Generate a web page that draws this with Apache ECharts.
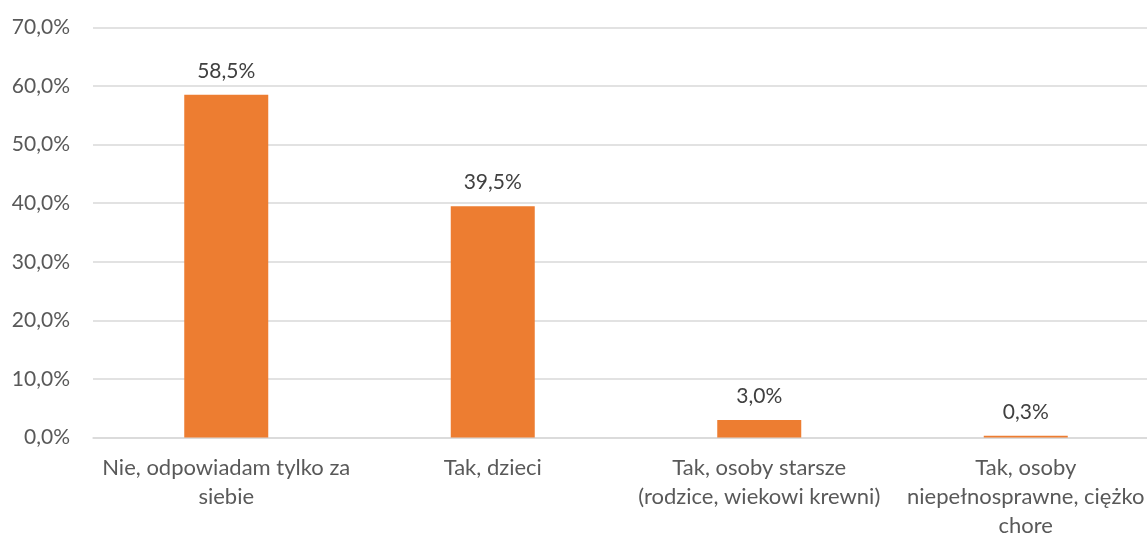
<!DOCTYPE html>
<html>
<head>
<meta charset="utf-8">
<script src="https://cdn.jsdelivr.net/npm/echarts@6/dist/echarts.min.js"></script>
<style>
html,body{margin:0;padding:0;background:#fff;}
#c{width:1147px;height:536px;}
</style>
</head>
<body>
<div id="c"></div>
<script>
const categories = [
  "Nie, odpowiadam tylko za\nsiebie",
  "Tak, dzieci",
  "Tak, osoby starsze\n(rodzice, wiekowi krewni)",
  "Tak, osoby\nniepełnosprawne, ciężko\nchore"
];
const values = [58.5, 39.5, 3.0, 0.3];
const yTicks = [0, 10, 20, 30, 40, 50, 60, 70];

const fmt = v => v.toFixed(1).replace('.', ',') + '%';
const FONT = 'Lato';

const chart = echarts.init(document.getElementById('c'), null, {renderer: 'canvas'});
chart.setOption({
  animation: false,
  grid: {left: 93, right: -12, top: 27.5, bottom: 98.5, containLabel: false, outerBoundsMode: 'none'},
  xAxis: {
    type: 'category',
    data: categories,
    axisLine: {show: true, lineStyle: {color: '#d9d9d9', width: 1.5}},
    axisTick: {show: false},
    axisLabel: {
      interval: 0, color: '#595959', fontFamily: FONT, fontSize: 22,
      lineHeight: 29, margin: 16
    }
  },
  yAxis: {
    type: 'value',
    min: yTicks[0], max: yTicks[yTicks.length - 1], interval: 10,
    axisLine: {show: false},
    axisTick: {show: false},
    splitLine: {lineStyle: {color: '#d9d9d9', width: 1.5}},
    axisLabel: {
      color: '#595959', fontFamily: FONT, fontSize: 21, margin: 23,
      formatter: v => fmt(v)
    }
  },
  series: [{
    type: 'bar',
    data: values,
    barWidth: 84,
    itemStyle: {color: '#ED7D31'},
    label: {
      show: true, position: 'top', distance: 13,
      color: '#404040', fontFamily: FONT, fontSize: 21,
      formatter: p => fmt(p.value)
    }
  }]
});
</script>
</body>
</html>
